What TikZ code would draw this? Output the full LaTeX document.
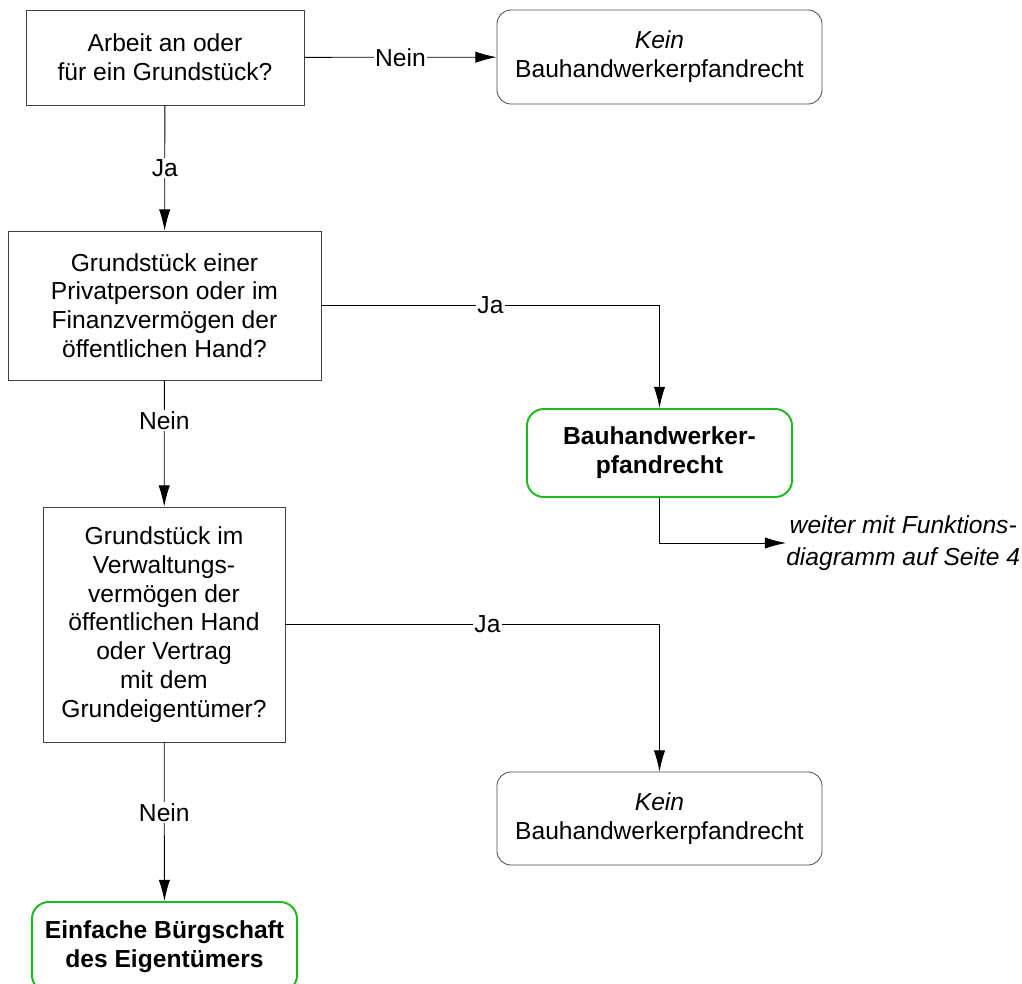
\documentclass[tikz,border=0pt]{standalone}
\usepackage{fontspec}
\setmainfont{Liberation Sans}
\usepackage{tikz}
\usetikzlibrary{arrows.meta}
\definecolor{okgreen}{RGB}{30,185,30}
\tikzset{
  >={Latex[length=15pt,width=8pt]},
  question/.style={draw=black!75, line width=0.6pt, align=center, inner sep=0pt},
  nobox/.style={draw=black!70, line width=0.6pt, rounded corners=10pt, align=center, inner sep=0pt},
  yesbox/.style={draw=okgreen, line width=1.4pt, rounded corners=12pt, align=center, inner sep=0pt, font=\bfseries},
  answer/.style={fill=white, inner sep=1pt},
  flow/.style={->, line width=0.6pt}
}
\begin{document}
\fontsize{17.5}{20.5}\selectfont
\begin{tikzpicture}[x=0.025cm, y=-0.025cm]
\useasboundingbox (0,0) rectangle (1022,984);
% questions
\node[question, minimum width=6.95cm, minimum height=2.375cm] (q1) at (165,57.5) {Arbeit an oder\\f\"ur ein Grundst\"uck?};
\node[question, minimum width=7.825cm, minimum height=3.725cm] (q2) at (164.5,305.5) {Grundst\"uck einer\\Privatperson oder im\\Finanzverm\"ogen der\\\"offentlichen Hand?};
\node[question, minimum width=6.05cm, minimum height=5.875cm] (q3) at (164,624.5) {Grundst\"uck im\\Verwaltungs-\\verm\"ogen der\\\"offentlichen Hand\\oder Vertrag\\mit dem\\Grundeigent\"umer?};
% results
\node[nobox, minimum width=8.125cm, minimum height=2.35cm] (k1) at (659.5,57) {\textit{Kein}\\Bauhandwerkerpfandrecht};
\node[yesbox, minimum width=6.625cm, minimum height=2.2cm] (b1) at (659.5,453) {Bauhandwerker-\\pfandrecht};
\node[nobox, minimum width=8.125cm, minimum height=2.325cm] (k2) at (659.5,818.5) {\textit{Kein}\\Bauhandwerkerpfandrecht};
\node[yesbox, minimum width=6.625cm, minimum height=2.25cm] (b2) at (164.5,947) {Einfache B\"urgschaft\\des Eigent\"umers};
\node[align=center, anchor=west, inner sep=0pt, font=\itshape] (next) at (786,543) {weiter mit Funktions-\\[2pt]diagramm auf Seite 4};
% connectors
\draw[flow] (q1) -- node[answer]{Nein} (k1);
\draw[flow] (q1) -- node[answer]{Ja} (q2);
\draw[flow] (q2.east) -| node[answer, pos=0.25]{Ja} (b1.north);
\draw[flow] (q2) -- node[answer, pos=0.32]{Nein} (q3);
\draw[flow] (b1.south) |- (next.west);
\draw[flow] (q3.east) -| node[answer, pos=0.27]{Ja} (k2.north);
\draw[flow] (q3) -- node[answer, pos=0.44]{Nein} (b2);
\end{tikzpicture}
\end{document}
